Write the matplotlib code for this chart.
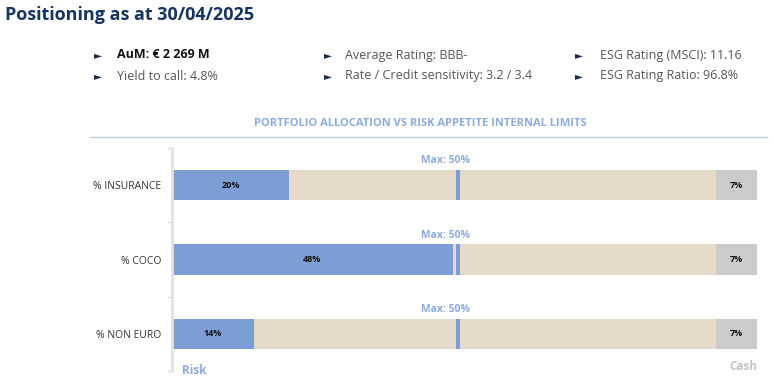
import numpy as np
import matplotlib.pyplot as plt

plt.rcParams['font.family'] = ['Open Sans', 'DejaVu Sans']

# data
categories = ['% INSURANCE', '% COCO', '% NON EURO']
risk = [20, 48, 14]
limits = [50, 50, 50]
cash = [7, 7, 7]

title = 'Positioning as at 30/04/2025'
col1 = ['AuM: € 2 269 M', 'Yield to call: 4.8%']
col2 = ['Average Rating: BBB-', 'Rate / Credit sensitivity: 3.2 / 3.4']
col3 = ['ESG Rating (MSCI): 11.16', 'ESG Rating Ratio: 96.8%']

BLUE = '#7d9ed4'
BEIGE = '#e6dbca'
GREY = '#cbcbcb'
NAVY = '#17345e'
LIGHTBLUE = '#8eabdc'

W, H = 774, 377
fig = plt.figure(figsize=(W / 100, H / 100), dpi=100)

def fx(px):
    return px / W

def fy(py):
    return 1 - py / H

# header
fig.text(fx(5), fy(15), title, fontsize=13, fontweight='bold', color=NAVY, va='center')

for x_b, x_t, items in [(98, 117, col1), (328, 345, col2), (579, 600, col3)]:
    for i, txt in enumerate(items):
        y = 55 + i * 21
        fig.text(fx(x_b), fy(y), '►', fontsize=7.5, color='#1c2b4a', va='center', ha='center',
                 family=['DejaVu Sans'])
        bold = txt.startswith('AuM')
        fig.text(fx(x_t), fy(y), txt, fontsize=9, va='center',
                 color='#111111' if bold else '#555555',
                 fontweight='bold' if bold else 'normal')

fig.text(fx(420), fy(124), 'PORTFOLIO ALLOCATION VS RISK APPETITE INTERNAL LIMITS',
         fontsize=8, fontweight='bold', color=LIGHTBLUE, ha='center', va='center')
fig.add_artist(plt.Line2D([fx(90), fx(767)], [fy(137), fy(137)], color='#bcd0ec', lw=1))

# chart
ax = fig.add_axes([fx(172), fy(371), fx(757 - 172), (371 - 148) / H])
y = np.arange(len(categories))
bh = 0.405
total = 100

cash_left = [total - c for c in cash]
ax.barh(y, cash_left, height=bh, color=BEIGE, edgecolor='none')
ax.barh(y, cash, left=cash_left, height=bh, color=GREY, edgecolor='none')
ax.barh(y, risk, height=bh, color=BLUE, edgecolor='none')
ax.barh(y, 0.7, left=np.array(limits) - 1.4, height=bh, color=BLUE, edgecolor='none')

for i in range(len(categories)):
    ax.text(risk[i] / 2, y[i], f'{risk[i]}%', ha='center', va='center',
            fontsize=6.5, fontweight='bold', color='#111111')
    ax.text(cash_left[i] + cash[i] / 2, y[i], f'{cash[i]}%', ha='center', va='center',
            fontsize=6.5, fontweight='bold', color='#111111')
    ax.text(limits[i] - 3.3, y[i] - bh / 2 - 0.05, f'Max: {limits[i]}%', ha='center',
            va='bottom', fontsize=7.5, fontweight='bold', color=LIGHTBLUE)

ax.set_xlim(0, total)
ax.set_ylim(len(categories) - 0.5, -0.5)
ax.set_yticks(y)
ax.set_yticklabels(categories, fontsize=7.5, color='#333333')
ax.tick_params(axis='y', which='major', length=0, pad=8)
ax.set_yticks(np.arange(len(categories) + 1) - 0.5, minor=True)
ax.tick_params(axis='y', which='minor', length=3, color='#d6d6d6', width=1)
ax.set_xticks([])
for s in ['top', 'right', 'bottom']:
    ax.spines[s].set_visible(False)
ax.spines['left'].set_color('#e2e2e2')
ax.spines['left'].set_linewidth(2)

fig.text(fx(182), fy(370), 'Risk', fontsize=8.5, fontweight='bold', color=LIGHTBLUE, va='center')
fig.text(fx(757), fy(367), 'Cash', fontsize=8.5, fontweight='bold', color='#c4c4c4',
         va='center', ha='right')

fig.savefig('out.png', dpi=100)
